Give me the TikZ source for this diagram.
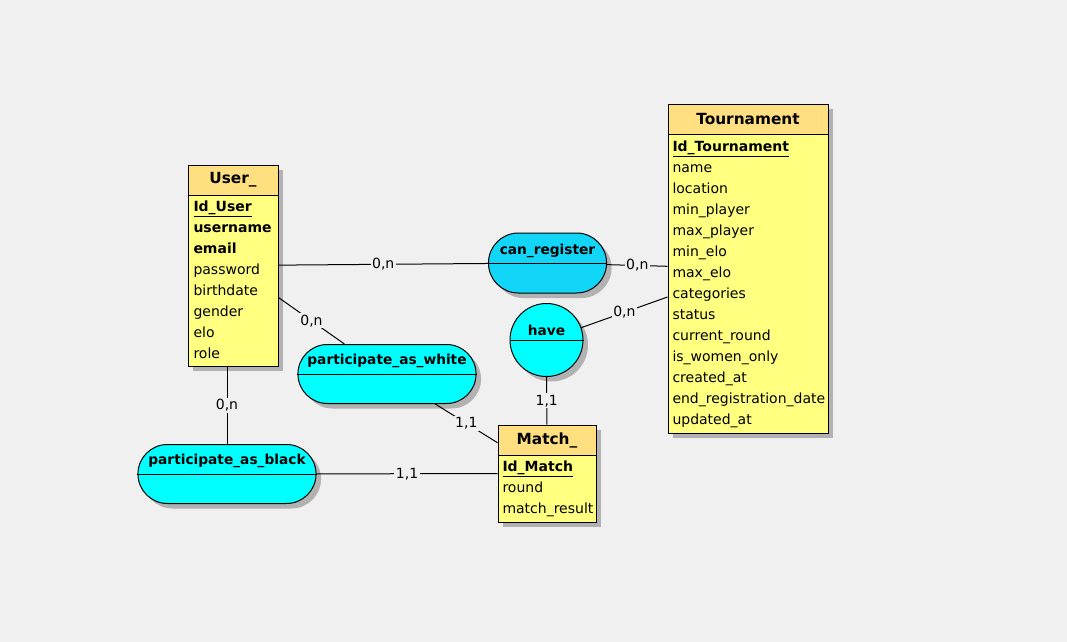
\documentclass[tikz,border=0pt]{standalone}
\usepackage{fontspec}
\setmainfont{DejaVu Sans}
\usetikzlibrary{shapes.geometric, shapes.misc, positioning, shadows}
\definecolor{bg}{RGB}{240,240,240}
\definecolor{entyellow}{RGB}{255,255,128}
\definecolor{entorange}{RGB}{255,223,128}
\definecolor{relcyan}{RGB}{0,255,255}
\definecolor{relblue}{RGB}{18,214,248}
\def\shad{black!30}
\def\attrfont{\fontsize{10.5}{12}\selectfont}
\tikzstyle{entity}=[draw, rectangle, fill=entyellow,
                  general shadow={fill=\shad, shadow xshift=3.75pt, shadow yshift=-3.75pt}]
\tikzstyle{header}=[draw, rectangle, fill=entorange, anchor=north, minimum height=22.5pt,
                  font=\fontsize{11.5}{13}\selectfont\bfseries]
\tikzstyle{attr}=[anchor=west, inner sep=0pt, font=\attrfont, text height=7.8pt, text depth=2.4pt]
\tikzstyle{relation}=[draw, rounded rectangle, fill=relcyan,
                  general shadow={fill=\shad, shadow xshift=3.75pt, shadow yshift=-3.75pt}]
\tikzstyle{reltext}=[inner sep=0pt, font=\fontsize{10.3}{12}\selectfont\bfseries]
\tikzstyle{card}=[fill=bg, inner sep=1.2pt, font=\attrfont]

\begin{document}
\begin{tikzpicture}[x=0.75pt, y=-0.75pt, line width=0.75pt]

  \fill[bg] (0,0) rectangle (1067,642);
  \useasboundingbox (0,0) rectangle (1067,642);

  % entities
  \node[entity, minimum width=67.5pt, minimum height=150.75pt] (user) at (233,265.5) {};
  \node[header, minimum width=67.5pt] (userh) at (user.north) {User\_};
  \foreach \a [count=\i from 0] in {\underline{\textbf{Id\_User}}, \textbf{username}, \textbf{email},
      password, birthdate, gender, elo, role}
    \node[attr] (user\i) at (193,{207.5+21*\i}) {\a};

  \node[entity, minimum width=120pt, minimum height=246.75pt] (tour) at (748,268.5) {};
  \node[header, minimum width=120pt] (tourh) at (tour.north) {Tournament};
  \foreach \a [count=\i from 0] in {\underline{\textbf{Id\_Tournament}}, name, location, min\_player,
      max\_player, min\_elo, max\_elo, categories, status, current\_round, is\_women\_only,
      created\_at, end\_registration\_date, updated\_at}
    \node[attr] (tour\i) at (672,{147.5+21*\i}) {\a};

  \node[entity, minimum width=73.5pt, minimum height=72.75pt] (match) at (547,473.5) {};
  \node[header, minimum width=73.5pt] (matchh) at (match.north) {Match\_};
  \foreach \a [count=\i from 0] in {\underline{\textbf{Id\_Match}}, round, match\_result}
    \node[attr] (match\i) at (502,{467.5+21*\i}) {\a};

  % associations
  \node[relation, fill=relblue, minimum width=95.25pt, minimum height=45pt] (reg) at (547.5,263) {};
  \draw (reg.west) -- (reg.east);
  \node[reltext] (regt) at (547.5,251) {can\_register};

  \node[relation, minimum width=140.25pt, minimum height=44.25pt] (white) at (387,374) {};
  \draw (white.west) -- (white.east);
  \node[reltext] (whitet) at (387,361) {participate\_as\_white};

  \node[relation, minimum width=140.25pt, minimum height=44.25pt] (black) at (227,474) {};
  \draw (black.west) -- (black.east);
  \node[reltext] (blackt) at (227,461) {participate\_as\_black};

  \node[draw, circle, fill=relcyan, minimum size=54.75pt,
        general shadow={fill=\shad, shadow xshift=3.75pt, shadow yshift=-3.75pt}] (have) at (546.5,340) {};
  \draw (have.west) -- (have.east);
  \node[reltext] (havet) at (546.5,330) {have};

  % links
  \draw (user) -- node[card] (c1) {0,n} (reg);
  \draw (reg) -- node[card] (c2) {0,n} (tour);
  \draw (user) -- node[card] (c3) {0,n} (white);
  \draw (white) -- node[card] (c4) {1,1} (match);
  \draw (black) -- node[card] (c5) {0,n} (black |- user.south);
  \draw (black) -- node[card] (c6) {1,1} (match);
  \draw (have) -- node[card] (c7) {0,n} (tour);
  \draw (have) -- node[card] (c8) {1,1} (match);

\end{tikzpicture}
\end{document}
